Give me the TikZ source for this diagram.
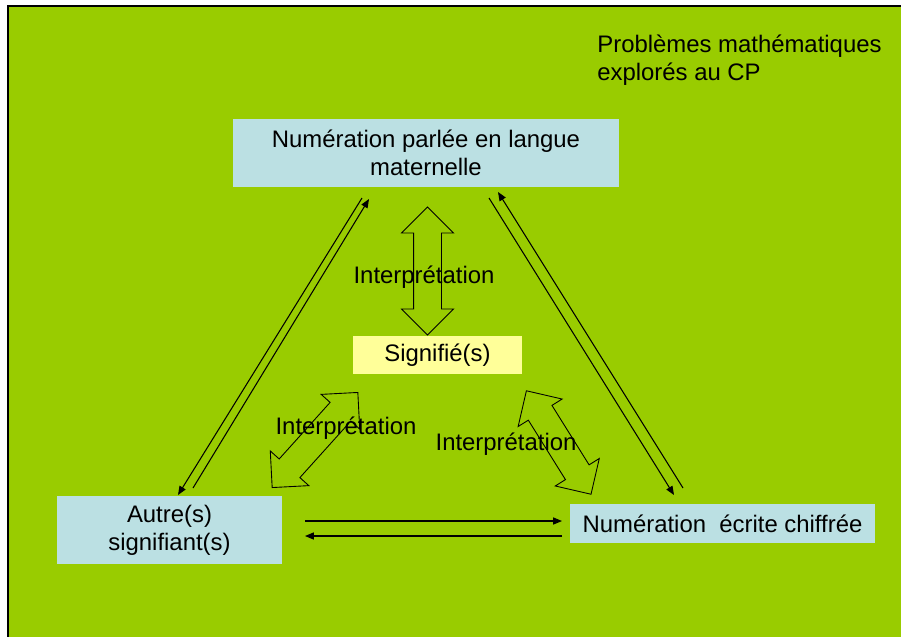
\documentclass[tikz,border=0pt]{standalone}
\usepackage{fontspec}
\setmainfont{Liberation Sans}
\usetikzlibrary{arrows.meta,shapes.arrows}

\definecolor{fond}{HTML}{99CC00}
\definecolor{bleu}{HTML}{BBE0E3}
\definecolor{jaune}{HTML}{FFFF99}

\tikzset{
  boite/.style={fill=bleu, align=center, inner sep=0pt},
  fleche/.style={line width=0.6pt, -{Triangle[length=5pt,width=4pt]}},
  interp/.style={draw, line width=0.5pt, double arrow, inner sep=0pt, inner ysep=0.27cm,
                 minimum height=2.56cm, double arrow head extend=0.24cm,
                 double arrow tip angle=90},
}

\begin{document}
\begin{tikzpicture}[x=0.02cm, y=-0.02cm, font=\fontsize{13.6}{15.9}\selectfont]
  \useasboundingbox (0,0) rectangle (901,636);
  \clip (0,0) rectangle (901,636);
  \fill[white] (0,0) rectangle (901,636);
  \draw[line width=0.9pt, fill=fond] (8,6) rectangle (910,645);

  \node[anchor=west, align=left, inner sep=0pt] (titre) at (597,60)
       {Problèmes mathématiques\\explorés au CP};

  % les quatre boites
  \node[boite, minimum width=7.72cm, minimum height=1.36cm] (parlee) at (426,153)
       {Numération parlée en langue\\maternelle};
  \node[boite, fill=jaune, minimum width=3.38cm, minimum height=0.76cm] (signifie) at (437.5,355)
       {Signifié(s)};
  \node[boite, minimum width=4.5cm, minimum height=1.36cm] (autre) at (169.5,530)
       {Autre(s)\\signifiant(s)};
  \node[boite, minimum width=6.1cm, minimum height=0.78cm] (ecrite) at (722.5,523.5)
       {Numération\ \ écrite chiffrée};

  % doubles fleches d'interpretation
  \node[interp, rotate=90]  (interpA) at (427.5,271) {};
  \node[interp, rotate=48]  (interpB) at (315,440) {};
  \node[interp, rotate=122, minimum height=2.44cm] (interpC) at (558.7,442.5) {};

  \node (labelA) at (424,277) {Interprétation};
  \node (labelB) at (346,428) {Interprétation};
  \node (labelC) at (506,444) {Interprétation};

  % bouts des fleches
  \coordinate (pa1) at (362,198); \coordinate (au1) at (178,495);
  \coordinate (au2) at (193,488); \coordinate (pa2) at (369,199);
  \coordinate (ec1) at (683,488); \coordinate (pa3) at (498,192);
  \coordinate (pa4) at (489,198); \coordinate (ec2) at (674,495);
  \coordinate (au3) at (305,521); \coordinate (ec3) at (562,521);
  \coordinate (ec4) at (562,536); \coordinate (au4) at (305,536);

  \draw[fleche] (pa1) -- (au1);
  \draw[fleche] (au2) -- (pa2);
  \draw[fleche] (ec1) -- (pa3);
  \draw[fleche] (pa4) -- (ec2);
  \draw[fleche] (au3) -- (ec3);
  \draw[fleche] (ec4) -- (au4);
\end{tikzpicture}
\end{document}
